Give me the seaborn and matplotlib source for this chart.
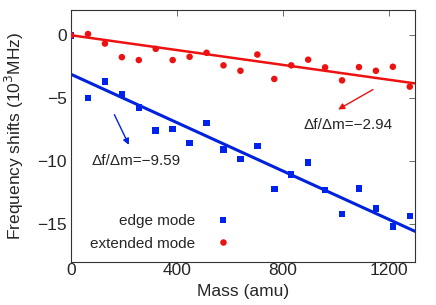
import numpy as np
import pandas as pd
import seaborn as sns
import matplotlib
matplotlib.use("Agg")
import matplotlib.pyplot as plt

# data
mass = [0, 64, 128, 192, 256, 320, 384, 448, 512, 576, 640,
        704, 768, 832, 896, 960, 1024, 1088, 1152, 1216, 1280]
edge_shift = [0.0, -5.0, -3.66, -4.68, -5.74, -7.58, -7.45, -8.55, -6.97, -9.08, -9.81,
              -8.79, -12.21, -11.05, -10.1, -12.29, -14.2, -12.18, -13.76, -15.18, -14.34]
ext_shift = [0.0, 0.1, -0.66, -1.74, -1.97, -1.08, -1.97, -1.71, -1.39, -2.39, -2.82,
             -1.53, -3.47, -2.39, -1.94, -2.55, -3.58, -2.53, -2.82, -2.50, -4.08]
# fitted lines: slope (MHz/amu), intercept (10^3 MHz)
edge_fit = (-9.59, -3.1)
ext_fit = (-2.94, 0.0)
fit_x = [0, 1300]

sns.set_theme(style="white")
plt.rcParams['font.family'] = ['Liberation Sans', 'DejaVu Sans']

df = pd.DataFrame({"Mass": mass * 2,
                   "Shift": edge_shift + ext_shift,
                   "mode": ["edge mode"] * len(mass) + ["extended mode"] * len(mass)})

fig, ax = plt.subplots(figsize=(4.36, 3.05), dpi=100)
fig.subplots_adjust(left=0.163, right=0.952, top=0.967, bottom=0.141)

fx = np.array(fit_x)
lines = pd.DataFrame({"Mass": np.concatenate([fx, fx]),
                      "Shift": np.concatenate([edge_fit[0] * 1e-3 * fx + edge_fit[1],
                                               ext_fit[0] * 1e-3 * fx + ext_fit[1]]),
                      "mode": ["edge mode"] * 2 + ["extended mode"] * 2})
sns.lineplot(data=lines[lines["mode"] == "edge mode"], x="Mass", y="Shift",
             color="#0022dd", lw=2.2, ax=ax, legend=False)
sns.lineplot(data=lines[lines["mode"] == "extended mode"], x="Mass", y="Shift",
             color="#ee1111", lw=1.8, ax=ax, legend=False)

sns.scatterplot(data=df, x="Mass", y="Shift", hue="mode", style="mode",
                palette={"edge mode": "#0022ee", "extended mode": "#ee1111"},
                markers={"edge mode": "s", "extended mode": "o"},
                s=22, linewidth=0, ax=ax, zorder=3)

ax.set_xlim(0, 1300)
ax.set_ylim(-18, 2)
ax.set_xticks([0, 400, 800, 1200])
ax.set_yticks([0, -5, -10, -15])
ax.tick_params(direction="in", top=True, right=True, length=4, width=0.6,
               color="#555555", labelsize=12.5)
ax.tick_params(axis="x", pad=1)
ax.tick_params(axis="y", pad=3)
for sp in ax.spines.values():
    sp.set_color("#333333")
    sp.set_linewidth(0.8)
ax.set_xlabel("Mass (amu)", fontsize=12.5, labelpad=4)
ax.set_ylabel("Frequency shifts (10$^3$MHz)", fontsize=12.5, labelpad=8)

# annotations
ax.annotate("", xy=(1000, -6.0), xytext=(1150, -4.2),
            arrowprops=dict(arrowstyle="-|>", color="#ee1111", lw=1.0,
                            mutation_scale=9))
ax.text(1217, -7.1, "Δf/Δm=−2.94", fontsize=11, ha="right", va="center")
ax.annotate("", xy=(223, -8.9), xytext=(159, -6.1),
            arrowprops=dict(arrowstyle="-|>", color="#0022ee", lw=1.0,
                            mutation_scale=9))
ax.text(79, -10, "Δf/Δm=−9.59", fontsize=11, ha="left", va="center")

ax.legend(title=None, frameon=False, markerfirst=False, loc="lower right",
          bbox_to_anchor=(0.525, -0.01), fontsize=11, handletextpad=0.8,
          labelspacing=0.55)

plt.savefig("out.png", dpi=100)
